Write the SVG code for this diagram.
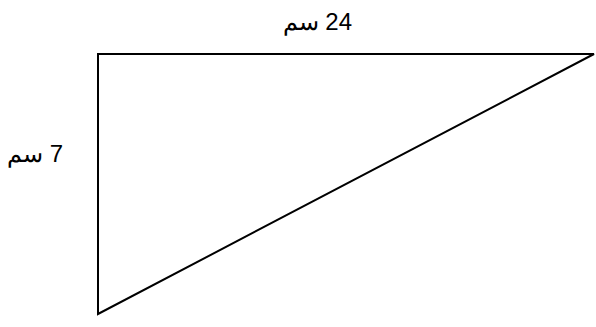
<svg xmlns="http://www.w3.org/2000/svg" width="596" height="327" viewBox="0 0 596 327">
<style>
.lbl{font-family:"Liberation Sans","Noto Sans",sans-serif;font-size:24px;fill:#000;}
.edge{fill:none;stroke:#000;stroke-width:2;stroke-linejoin:miter;}
</style>
<rect width="596" height="327" fill="#fff"/>
<g id="triangle">
<polygon class="edge" points="98,54 594,54 98,314"/>
</g>
<g id="labels">
<text class="lbl" x="352" y="30" direction="rtl" text-anchor="start">24 سم</text>
<text class="lbl" x="63" y="162" direction="rtl" text-anchor="start">7 سم</text>
</g>
</svg>
